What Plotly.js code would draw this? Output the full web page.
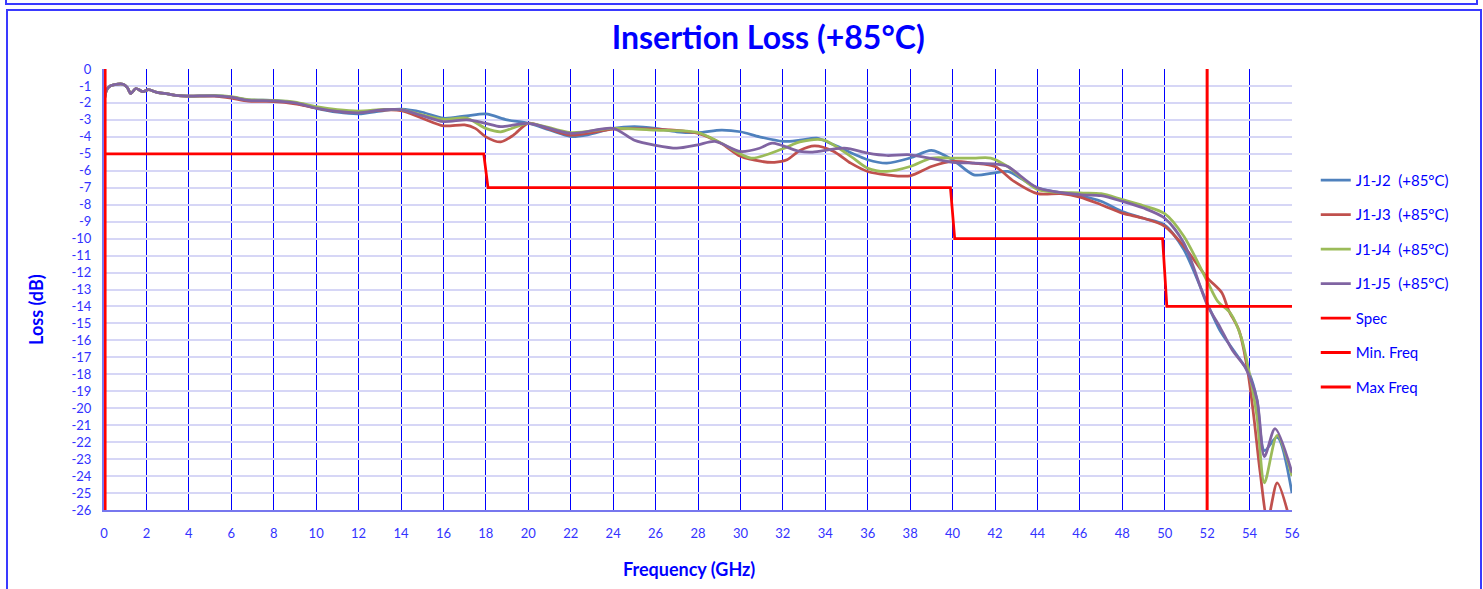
<!DOCTYPE html>
<html>
<head>
<meta charset="utf-8">
<script src="https://cdn.plot.ly/plotly-3.0.1.min.js"></script>
<style>
html,body{margin:0;padding:0;background:#fff;}
#wrap{position:relative;width:1483px;height:589px;overflow:hidden;}
#chart{position:absolute;left:0;top:0;width:1483px;height:589px;}
.frame{position:absolute;border:2px solid #3a3aff;pointer-events:none;box-sizing:border-box;}
</style>
</head>
<body>
<div id="wrap">
<div id="chart"></div>
<div class="frame" style="left:5px;top:-20px;width:1473px;height:25px;"></div>
<div class="frame" style="left:6px;top:9px;width:1476px;height:600px;"></div>
</div>
<script>
// ---- data ----
var seriesNames = ['J1-J2  (+85°C)', 'J1-J3  (+85°C)', 'J1-J4  (+85°C)', 'J1-J5  (+85°C)'];
var seriesColors = ['#4F81BD', '#C0504D', '#9BBB59', '#8064A2'];

// common low-frequency segment (0 - 13 GHz)
var freqLow = [0.02, 0.12, 0.3, 0.5, 0.9, 1.1, 1.26, 1.5, 1.82, 2.1, 2.5, 3.0, 3.5, 4.0, 5.2, 6.0, 6.8, 8.0, 9.0, 10.0, 11.0, 12.0, 13.2];
var lossLowJ2 = [-1.8, -1.25, -1.0, -0.92, -0.9, -1.1, -1.45, -1.15, -1.33, -1.22, -1.38, -1.47, -1.57, -1.6, -1.57, -1.65, -1.82, -1.85, -2.0, -2.32, -2.55, -2.65, -2.45];
var lossLowJ3 = [-1.8, -1.25, -1.0, -0.92, -0.9, -1.1, -1.45, -1.15, -1.33, -1.22, -1.38, -1.47, -1.57, -1.6, -1.6, -1.72, -1.9, -1.92, -2.05, -2.3, -2.5, -2.55, -2.42];
var lossLowJ4 = [-1.8, -1.25, -1.0, -0.92, -0.9, -1.1, -1.45, -1.15, -1.33, -1.22, -1.38, -1.47, -1.57, -1.6, -1.57, -1.63, -1.8, -1.85, -1.95, -2.22, -2.4, -2.48, -2.38];
var lossLowJ5 = [-1.8, -1.25, -1.0, -0.92, -0.9, -1.1, -1.45, -1.15, -1.33, -1.22, -1.38, -1.47, -1.57, -1.6, -1.58, -1.66, -1.85, -1.88, -2.0, -2.3, -2.5, -2.58, -2.4];

// J1-J2
var freqJ2 = [14, 15, 16, 17.1, 18, 19, 20, 21, 22, 22.8, 24, 25, 26, 27, 28, 29.1, 30, 30.9, 32, 32.8, 33.6, 34.4, 36, 36.9, 38, 39, 40, 41, 41.9, 42.6, 44, 46, 47, 48, 49, 50, 50.9, 52, 52.6, 53.25, 54, 54.35, 54.7, 55.3, 56];
var lossJ2 = [-2.37, -2.55, -2.9, -2.76, -2.65, -3.0, -3.2, -3.6, -3.98, -3.88, -3.5, -3.4, -3.5, -3.7, -3.75, -3.6, -3.7, -4.0, -4.27, -4.2, -4.08, -4.47, -5.35, -5.55, -5.25, -4.8, -5.35, -6.24, -6.14, -6.04, -7.0, -7.47, -7.8, -8.4, -8.8, -9.2, -10.65, -13.8, -15.4, -16.6, -18.0, -19.5, -22.5, -21.7, -25.0];
// J1-J3
var freqJ3 = [14, 15, 16, 17, 17.5, 18, 18.7, 19.3, 20, 21, 22, 24, 26, 28, 29.1, 30, 31, 31.6, 32.2, 32.8, 33.5, 34.4, 35.2, 36, 36.9, 38, 39, 40, 41, 42, 42.9, 44, 45.1, 46, 47, 48, 49, 50, 50.9, 52, 52.7, 53.0, 53.5, 53.9, 54.2, 54.5, 54.85, 55.3, 55.9];
var lossJ3 = [-2.45, -2.9, -3.35, -3.3, -3.5, -4.0, -4.3, -3.9, -3.2, -3.55, -3.9, -3.55, -3.55, -3.8, -4.4, -5.15, -5.45, -5.5, -5.35, -4.8, -4.53, -4.86, -5.55, -6.04, -6.24, -6.3, -5.75, -5.45, -5.55, -5.75, -6.63, -7.35, -7.35, -7.55, -8.0, -8.5, -8.8, -9.27, -10.45, -12.3, -13.2, -14.2, -15.4, -17.7, -20.5, -23.8, -26.6, -24.4, -26.6];
// J1-J4
var freqJ4 = [14, 15, 16, 17.1, 18, 18.7, 20, 22, 24, 26, 28, 29.1, 30.5, 32, 32.8, 33.9, 35.2, 36, 36.9, 38, 39, 40, 41, 41.8, 42.6, 44, 46, 47, 48, 49, 50, 50.9, 52, 52.5, 53.1, 53.6, 54, 54.35, 54.7, 55.3, 56];
var lossJ4 = [-2.4, -2.7, -2.96, -2.9, -3.5, -3.7, -3.2, -3.75, -3.5, -3.6, -3.75, -4.37, -5.25, -4.7, -4.3, -4.18, -5.15, -5.85, -6.04, -5.75, -5.25, -5.25, -5.25, -5.25, -5.75, -7.1, -7.3, -7.35, -7.7, -8.06, -8.53, -9.86, -12.5, -13.7, -14.4, -15.8, -18.0, -20.5, -24.4, -21.6, -24.0];
// J1-J5
var freqJ5 = [14, 15, 16, 17.1, 18, 18.7, 20, 22, 24, 25, 26, 27, 28, 28.8, 30, 30.9, 31.5, 32.8, 33.4, 34.9, 36, 36.9, 38, 40, 41, 42, 42.6, 44, 46, 47, 48, 49, 50, 50.9, 52, 52.6, 53.2, 53.8, 54.35, 54.7, 55.2, 56];
var lossJ5 = [-2.4, -2.75, -3.1, -3.0, -3.2, -3.4, -3.2, -3.8, -3.5, -4.2, -4.5, -4.67, -4.47, -4.27, -4.86, -4.67, -4.37, -4.86, -4.9, -4.67, -4.96, -5.1, -5.06, -5.5, -5.55, -5.6, -5.75, -7.0, -7.4, -7.47, -7.8, -8.2, -8.8, -10.25, -13.9, -15.2, -16.6, -17.6, -19.5, -22.85, -21.2, -23.8];

// spec limit and band edges
var specFreq = [0, 17.9, 18.1, 39.9, 40.1, 49.9, 50.1, 56];
var specLoss = [-5, -5, -7, -7, -10, -10, -14, -14];
var minFreqX = [0.05, 0.05];
var maxFreqX = [52, 52];
var freqMarkerY = [0, -26];

var xTicks = [0, 2, 4, 6, 8, 10, 12, 14, 16, 18, 20, 22, 24, 26, 28, 30, 32, 34, 36, 38, 40, 42, 44, 46, 48, 50, 52, 54, 56];
var yTicks = [0, -1, -2, -3, -4, -5, -6, -7, -8, -9, -10, -11, -12, -13, -14, -15, -16, -17, -18, -19, -20, -21, -22, -23, -24, -25, -26];

// ---- build traces ----
var lowSets = [lossLowJ2, lossLowJ3, lossLowJ4, lossLowJ5];
var hiF = [freqJ2, freqJ3, freqJ4, freqJ5];
var hiL = [lossJ2, lossJ3, lossJ4, lossJ5];
var FONT = 'Lato, "Open Sans", sans-serif';
var traces = [];
for (var i = 0; i < 4; i++) {
  traces.push({
    x: freqLow.concat(hiF[i]),
    y: lowSets[i].concat(hiL[i]),
    type: 'scatter', mode: 'lines', name: seriesNames[i], legendgroup: 'g' + i,
    line: {color: seriesColors[i], width: 2.75, shape: 'spline', smoothing: 0.8}
  });
}
traces.push({x: specFreq, y: specLoss, type: 'scatter', mode: 'lines', name: 'Spec', legendgroup: 'g4',
  line: {color: '#FF0000', width: 2.75}});
traces.push({x: minFreqX, y: freqMarkerY, type: 'scatter', mode: 'lines', name: 'Min. Freq', legendgroup: 'g5',
  line: {color: '#FF0000', width: 3}});
traces.push({x: maxFreqX, y: freqMarkerY, type: 'scatter', mode: 'lines', name: 'Max Freq', legendgroup: 'g6',
  line: {color: '#FF0000', width: 3}});

var layout = {
  width: 1483, height: 589,
  margin: {l: 104, r: 191, t: 69, b: 79},
  paper_bgcolor: '#ffffff', plot_bgcolor: '#ffffff',
  font: {family: FONT, color: '#0000FF'},
  showlegend: true,
  legend: {x: 1.02, y: 0.785, xanchor: 'left', yanchor: 'top', tracegroupgap: 12,
    font: {family: FONT, size: 15, color: '#0000FF'}, bgcolor: 'rgba(0,0,0,0)', itemwidth: 30},
  xaxis: {
    range: [0, 56], tickmode: 'array', tickvals: xTicks, ticktext: xTicks.map(String),
    showgrid: true, gridcolor: '#0000FF', gridwidth: 1,
    showline: true, linecolor: '#7777EE', linewidth: 2, zeroline: false,
    ticks: '', ticklabelstandoff: 10,
    tickfont: {family: FONT, size: 13, color: '#3333FF'}
  },
  yaxis: {
    range: [-26, 0], tickmode: 'array', tickvals: yTicks, ticktext: yTicks.map(String),
    showgrid: true, gridcolor: '#D6D6F6', gridwidth: 2,
    showline: true, linecolor: '#7777EE', linewidth: 2, zeroline: false,
    ticks: '', ticklabelstandoff: 8,
    tickfont: {family: FONT, size: 13, color: '#3333FF'}
  },
  title: {text: '<b>Insertion Loss (+85°C)</b>', x: 0.518, xanchor: 'center', y: 0.935, yanchor: 'middle',
    font: {family: FONT, size: 32, color: '#0000FF'}},
  annotations: [
    {text: '<b>Frequency (GHz)</b>', xref: 'paper', yref: 'paper', x: (689 - 104) / 1188, y: -(569 - 510) / 441,
      xanchor: 'center', yanchor: 'middle', showarrow: false, font: {family: FONT, size: 18, color: '#0000FF'}},
    {text: '<b>Loss (dB)</b>', xref: 'paper', yref: 'paper', x: (36 - 104) / 1188, y: (510 - 310) / 441,
      xanchor: 'center', yanchor: 'middle', showarrow: false, textangle: -90, font: {family: FONT, size: 18, color: '#0000FF'}}
  ]
};

Plotly.newPlot('chart', traces, layout, {displayModeBar: false, staticPlot: true});
</script>
</body>
</html>
